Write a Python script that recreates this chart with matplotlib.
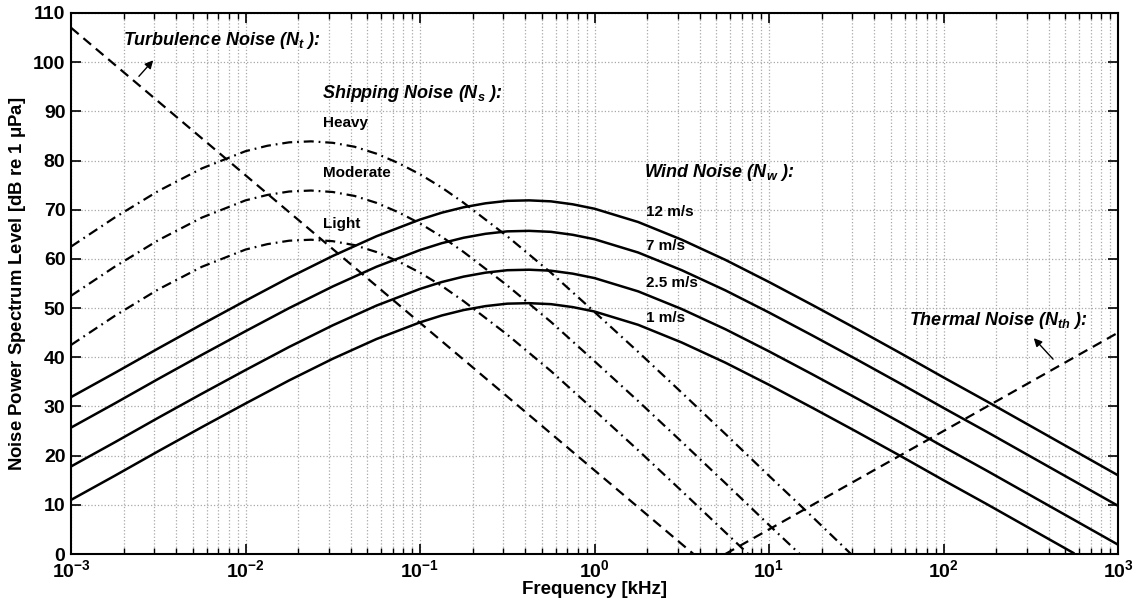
# %%
import matplotlib
matplotlib.use('Agg')
import matplotlib.pyplot as plt
from matplotlib.ticker import LogLocator, NullFormatter

plt.rcParams['font.family'] = ['Liberation Sans', 'DejaVu Sans']

# %% data (frequency in kHz, level in dB)
wind_freq = [0.001, 0.0017783, 0.0031623, 0.0056234, 0.01, 0.017783, 0.031623,
             0.056234, 0.1, 0.13335, 0.17783, 0.23714, 0.31623, 0.4217, 0.56234,
             0.74989, 1.0, 1.7783, 3.1623, 5.6234, 10.0, 17.783, 31.623, 56.234,
             100.0, 177.83, 316.23, 562.34, 1000.0]
wind_12 = [31.9, 36.8, 41.8, 46.7, 51.5, 56.2, 60.6, 64.6, 68.0, 69.4, 70.5,
           71.3, 71.8, 71.9, 71.7, 71.1, 70.2, 67.5, 63.9, 59.8, 55.3, 50.6,
           45.8, 40.9, 35.9, 31.0, 26.0, 21.0, 16.0]
wind_7 = [25.7, 30.6, 35.6, 40.5, 45.3, 50.0, 54.4, 58.4, 61.8, 63.2, 64.3,
          65.1, 65.6, 65.7, 65.5, 64.9, 64.0, 61.3, 57.7, 53.6, 49.1, 44.4,
          39.6, 34.7, 29.7, 24.8, 19.8, 14.8, 9.8]
wind_2p5 = [17.8, 22.7, 27.7, 32.6, 37.4, 42.1, 46.5, 50.5, 53.9, 55.3, 56.4,
            57.2, 57.7, 57.8, 57.6, 57.0, 56.1, 53.4, 49.8, 45.7, 41.2, 36.5,
            31.7, 26.8, 21.8, 16.9, 11.9, 6.9, 1.9]
wind_1 = [11.0, 15.9, 20.9, 25.8, 30.6, 35.3, 39.7, 43.7, 47.1, 48.5, 49.6,
          50.4, 50.9, 51.0, 50.8, 50.2, 49.3, 46.6, 43.0, 38.9, 34.4, 29.7,
          24.9, 20.0, 15.0, 10.1, 5.1, 0.1]

ship_freq = [0.001, 0.0017783, 0.0031623, 0.0056234, 0.01, 0.013335, 0.017783,
             0.023714, 0.031623, 0.04217, 0.056234, 0.074989, 0.1, 0.13335,
             0.17783, 0.31623, 0.56234, 1.0, 1.7783, 3.1623, 5.6234, 10.0, 17.783]
ship_heavy = [62.5, 68.4, 73.8, 78.4, 81.9, 83.0, 83.7, 83.9, 83.6, 82.8, 81.4,
              79.5, 77.2, 74.5, 71.4, 64.6, 57.2, 49.2, 41.1, 32.8, 24.4, 15.9, 7.5]
ship_moderate = [52.5, 58.4, 63.8, 68.4, 71.9, 73.0, 73.7, 73.9, 73.6, 72.8, 71.4,
                 69.5, 67.2, 64.5, 61.4, 54.6, 47.2, 39.2, 31.1, 22.8, 14.4, 5.9]
ship_light = [42.5, 48.4, 53.8, 58.4, 61.9, 63.0, 63.7, 63.9, 63.6, 62.8, 61.4,
              59.5, 57.2, 54.5, 51.4, 44.6, 37.2, 29.2, 21.1, 12.8, 4.4]
ship_end_freq = [29.5, 15.0, 7.6]

turb_freq = [0.001, 3.69]
turb_level = [107.0, 0.0]
therm_freq = [5.62, 1000.0]
therm_level = [0.0, 45.0]

wind_labels = ['12 m/s', '7 m/s', '2.5 m/s', '1 m/s']
ship_labels = ['Heavy', 'Moderate', 'Light']

# %%
fig = plt.figure(figsize=(11.42, 6.09), dpi=100)
ax = fig.add_axes([0.0622, 0.0903, 0.9168, 0.8884])

for lev in [wind_12, wind_7, wind_2p5, wind_1]:
    ax.plot(wind_freq[:len(lev)], lev, color='black', lw=1.8, solid_capstyle='butt')

for lev, fend in zip([ship_heavy, ship_moderate, ship_light], ship_end_freq):
    ax.plot(ship_freq[:len(lev)] + [fend], lev + [0.0], color='black', lw=1.6,
            dashes=(4.5, 2.2, 0.8, 2.2))

ax.plot(turb_freq, turb_level, color='black', lw=1.6, dashes=(4.5, 2.8))
ax.plot(therm_freq, therm_level, color='black', lw=1.6, dashes=(4.5, 2.8))

ax.set_xscale('log')
ax.set_xlim(1e-3, 1e3)
ax.set_ylim(0, 110)
ax.set_yticks(range(0, 111, 10))
ax.xaxis.set_minor_locator(LogLocator(base=10, subs=range(2, 10), numticks=20))
ax.xaxis.set_minor_formatter(NullFormatter())

ax.grid(True, which='major', color='#a8a8a8', linestyle=':', lw=0.9)
ax.grid(True, which='minor', axis='x', color='#a8a8a8', linestyle=':', lw=0.9)
ax.tick_params(which='both', direction='in', top=True, right=True)
ax.tick_params(which='major', length=7, width=1.2, labelsize=14, pad=4)
ax.tick_params(which='minor', length=4, width=1.0)
for lbl in ax.get_xticklabels() + ax.get_yticklabels():
    lbl.set_fontweight('bold')
for sp in ax.spines.values():
    sp.set_linewidth(1.5)

ax.set_xlabel('Frequency [kHz]', fontsize=13.5, fontweight='bold', labelpad=0)
ax.set_ylabel('Noise Power Spectrum Level [dB re 1 $\\mathdefault{\\mu}$Pa]',
              fontsize=13.3, fontweight='bold', labelpad=4)

hdr = dict(fontsize=13, fontweight='bold', fontstyle='italic', va='center', ha='left')
sub = dict(fontsize=11, fontweight='bold', va='center', ha='left')

ax.text(0.00199, 104.5, 'Turbulence Noise ($\\mathdefault{N_t}$ ):', **hdr)
ax.annotate('', xy=(0.00303, 100.8), xytext=(0.00239, 96.7),
            arrowprops=dict(arrowstyle='-|>', color='black', lw=1.0,
                            mutation_scale=12))

ax.text(0.0274, 93.7, 'Shipping Noise ($\\mathdefault{N_s}$ ):', **hdr)
for lbl, y in zip(ship_labels, [87.6, 77.4, 67.1]):
    ax.text(0.0279, y, lbl, **sub)

ax.text(1.92, 77.6, 'Wind Noise ($\\mathdefault{N_w}$ ):', **hdr)
for lbl, y in zip(wind_labels, [69.5, 62.6, 55.1, 48.0]):
    ax.text(1.97, y, lbl, **sub)

ax.text(63.4, 47.4, 'Thermal Noise ($\\mathdefault{N_{th}}$ ):', **hdr)
ax.annotate('', xy=(321, 44.3), xytext=(435, 39.2),
            arrowprops=dict(arrowstyle='-|>', color='black', lw=1.0,
                            mutation_scale=12))

fig.savefig('out.png', dpi=100)
